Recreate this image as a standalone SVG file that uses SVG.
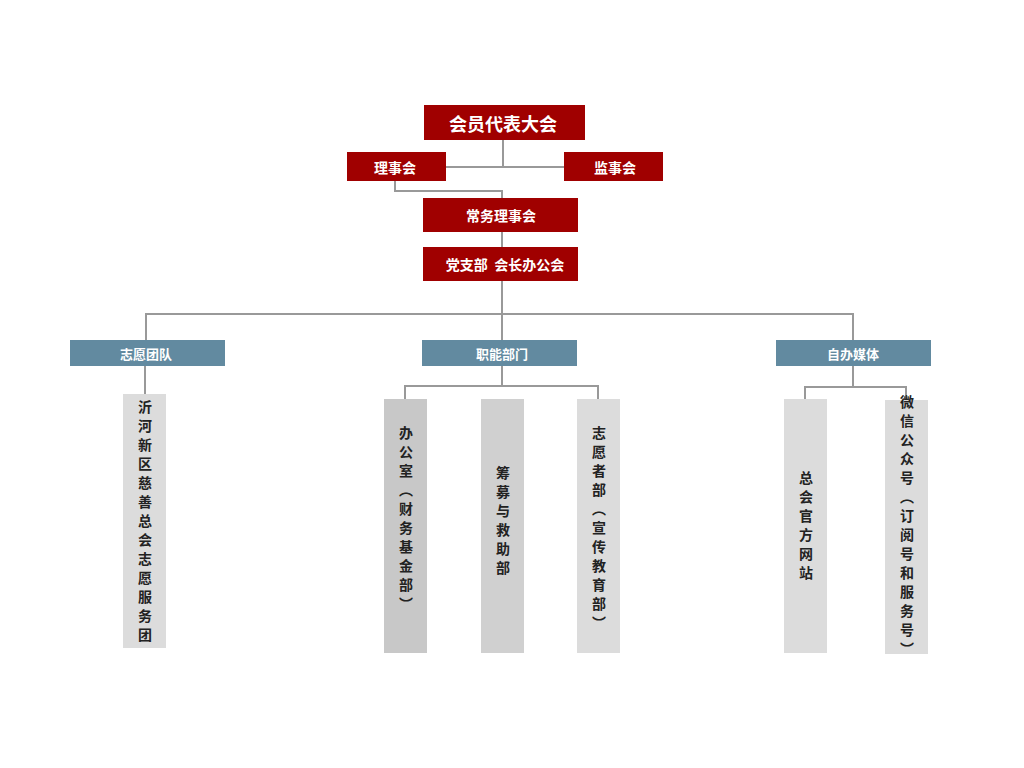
<svg xmlns="http://www.w3.org/2000/svg" width="1024" height="768" viewBox="0 0 1024 768">
<style>
.r{fill:#a00000}.b{fill:#628aa0}
.t{font-family:"Noto Sans CJK SC",sans-serif;font-weight:bold;fill:#fff;text-anchor:middle;dominant-baseline:central}
.v{font-family:"Noto Sans CJK SC",sans-serif;font-weight:bold;fill:#222;font-size:14px;writing-mode:vertical-rl;text-anchor:middle;letter-spacing:5px}
.c{fill:none;stroke:#999;stroke-width:2}
</style>
<rect width="1024" height="768" fill="#fff"/>
<g id="connectors" class="c">
<path d="M503 140V167M446 167H564M395 181V191H502V198M502 232V247M502 281V340M146 340V314H853V340M145 366V394M502 366V386M405 399V386H598V399M853 366V387M805 399V387H906V400"/>
</g>
<g id="n1"><rect class="r" x="424" y="105" width="161" height="35"/><text class="t" x="503" y="123" font-size="18">会员代表大会</text></g>
<g id="n2"><rect class="r" x="347" y="152" width="99" height="29"/><text class="t" x="395" y="167" font-size="14">理事会</text></g>
<g id="n3"><rect class="r" x="564" y="152" width="99" height="29"/><text class="t" x="615" y="167" font-size="14">监事会</text></g>
<g id="n4"><rect class="r" x="423" y="198" width="155" height="34"/><text class="t" x="501" y="215" font-size="14">常务理事会</text></g>
<g id="n5"><rect class="r" x="423" y="247" width="155" height="34"/><text class="t" x="505" y="264" font-size="14" xml:space="preserve">党支部  会长办公会</text></g>
<g id="n6"><rect class="b" x="70" y="340" width="155" height="26"/><text class="t" x="146" y="353" font-size="13">志愿团队</text></g>
<g id="n7"><rect class="b" x="422" y="340" width="155" height="26"/><text class="t" x="502" y="353" font-size="13">职能部门</text></g>
<g id="n8"><rect class="b" x="776" y="340" width="155" height="26"/><text class="t" x="853" y="353" font-size="13">自办媒体</text></g>
<g id="n9"><rect fill="#dcdcdc" x="123" y="394" width="43" height="254"/><text class="v" x="145" y="523">沂河新区慈善总会志愿服务团</text></g>
<g id="n10"><rect fill="#c8c8c8" x="384" y="399" width="43" height="254"/><text class="v" x="406" y="521">办公室（财务基金部）</text></g>
<g id="n11"><rect fill="#d0d0d0" x="481" y="399" width="43" height="254"/><text class="v" x="503" y="523">筹募与救助部</text></g>
<g id="n12"><rect fill="#dcdcdc" x="577" y="399" width="43" height="254"/><text class="v" x="599" y="530">志愿者部（宣传教育部）</text></g>
<g id="n13"><rect fill="#dcdcdc" x="784" y="399" width="43" height="254"/><text class="v" x="806" y="528">总会官方网站</text></g>
<g id="n14"><rect fill="#dcdcdc" x="885" y="400" width="43" height="254"/><text class="v" x="907" y="528">微信公众号（订阅号和服务号）</text></g>
</svg>
